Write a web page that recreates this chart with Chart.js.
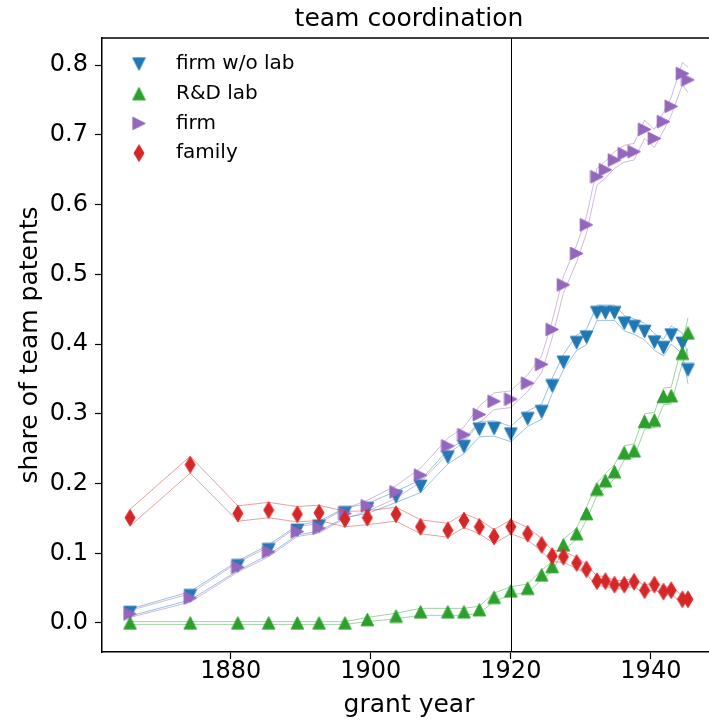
<!DOCTYPE html>
<html>
<head>
<meta charset="utf-8">
<script src="https://cdn.jsdelivr.net/npm/chart.js@4.4.1/dist/chart.umd.min.js"></script>
<style>
html, body { margin: 0; padding: 0; background: #fff; overflow: hidden; width: 709px; height: 722px; }
#wrap { width: 740px; height: 722px; position: relative; }
canvas { display: block; }
</style>
</head>
<body>
<div id="wrap"><canvas id="c" width="740" height="722"></canvas></div>
<script>
// Mean grant year of each bin
const grantYears = [1865.6, 1874.2, 1881.0, 1885.4, 1889.5, 1892.6, 1896.3, 1899.5, 1903.6, 1907.1,
  1911.0, 1913.3, 1915.5, 1917.6, 1920.0, 1922.4, 1924.4, 1925.9, 1927.5, 1929.4,
  1930.8, 1932.3, 1933.5, 1934.8, 1936.2, 1937.6, 1939.1, 1940.5, 1941.8, 1942.9,
  1944.5, 1945.3];

// Share of team patents by coordination type, with band half-widths
const firmWithoutLab = [0.015, 0.039, 0.082, 0.105, 0.133, 0.139, 0.158, 0.164, 0.181, 0.196,
  0.238, 0.253, 0.278, 0.279, 0.271, 0.293, 0.303, 0.340, 0.374, 0.402,
  0.410, 0.445, 0.445, 0.445, 0.430, 0.425, 0.418, 0.403, 0.395, 0.413,
  0.401, 0.363];
const firmWithoutLabErr = [0.005, 0.006, 0.007, 0.007, 0.007, 0.007, 0.007, 0.007, 0.008, 0.009,
  0.010, 0.010, 0.011, 0.011, 0.011, 0.011, 0.011, 0.011, 0.011, 0.011,
  0.011, 0.011, 0.011, 0.011, 0.011, 0.011, 0.012, 0.012, 0.012, 0.013,
  0.015, 0.020];

const rdLab = [0, 0, 0, 0, 0, 0, 0, 0.005, 0.010, 0.016,
  0.016, 0.016, 0.019, 0.037, 0.046, 0.050, 0.069, 0.081, 0.112, 0.128,
  0.157, 0.192, 0.204, 0.217, 0.244, 0.247, 0.289, 0.291, 0.325, 0.326,
  0.387, 0.416];
const rdLabErr = [0.002, 0.002, 0.002, 0.002, 0.002, 0.002, 0.002, 0.003, 0.004, 0.005,
  0.005, 0.005, 0.005, 0.006, 0.006, 0.006, 0.007, 0.007, 0.008, 0.008,
  0.009, 0.009, 0.010, 0.010, 0.010, 0.010, 0.011, 0.011, 0.012, 0.012,
  0.014, 0.022];

const firm = [0.013, 0.036, 0.080, 0.102, 0.131, 0.136, 0.157, 0.168, 0.188, 0.212,
  0.254, 0.270, 0.299, 0.318, 0.321, 0.344, 0.371, 0.421, 0.485, 0.530,
  0.571, 0.640, 0.650, 0.664, 0.673, 0.676, 0.708, 0.695, 0.719, 0.741,
  0.788, 0.779];
const firmErr = [0.005, 0.006, 0.007, 0.007, 0.007, 0.007, 0.007, 0.008, 0.009, 0.010,
  0.011, 0.011, 0.012, 0.012, 0.012, 0.012, 0.012, 0.012, 0.012, 0.012,
  0.012, 0.012, 0.012, 0.012, 0.012, 0.012, 0.013, 0.013, 0.013, 0.013,
  0.016, 0.018];

const family = [0.151, 0.227, 0.157, 0.162, 0.156, 0.158, 0.149, 0.151, 0.156, 0.138,
  0.133, 0.147, 0.138, 0.124, 0.138, 0.128, 0.112, 0.096, 0.095, 0.086,
  0.077, 0.060, 0.060, 0.055, 0.055, 0.059, 0.047, 0.055, 0.045, 0.047,
  0.034, 0.034];
const familyErr = [0.012, 0.012, 0.011, 0.011, 0.011, 0.011, 0.011, 0.010, 0.010, 0.010,
  0.010, 0.010, 0.010, 0.010, 0.010, 0.009, 0.009, 0.008, 0.008, 0.008,
  0.007, 0.007, 0.007, 0.006, 0.006, 0.006, 0.006, 0.006, 0.006, 0.006,
  0.005, 0.005];

const seriesLabels = ['firm w/o lab', 'R&D lab', 'firm', 'family'];
const xTicks = [1880, 1900, 1920, 1940];
const yTicks = [0.0, 0.1, 0.2, 0.3, 0.4, 0.5, 0.6, 0.7, 0.8];
const referenceYear = 1920;

const FONT = "'DejaVu Sans', 'Liberation Sans', sans-serif";

// Marker glyphs drawn once on small canvases and reused as point styles
function makeMarker(shape, color) {
  const c = document.createElement('canvas');
  const w = shape === 'diamond' ? 12 : 15;
  const h = shape === 'diamond' ? 19 : 15;
  c.width = w; c.height = h;
  const g = c.getContext('2d');
  const cx = w / 2, cy = h / 2, s = 6.3;
  g.fillStyle = color;
  g.strokeStyle = color;
  g.lineWidth = 1;
  g.beginPath();
  if (shape === 'down') {
    g.moveTo(cx - s, cy - s); g.lineTo(cx + s, cy - s); g.lineTo(cx, cy + s);
  } else if (shape === 'up') {
    g.moveTo(cx, cy - s); g.lineTo(cx + s, cy + s); g.lineTo(cx - s, cy + s);
  } else if (shape === 'right') {
    g.moveTo(cx + s, cy); g.lineTo(cx - s, cy + s); g.lineTo(cx - s, cy - s);
  } else {
    g.moveTo(cx, cy - 8.3); g.lineTo(cx + 5, cy); g.lineTo(cx, cy + 8.3); g.lineTo(cx - 5, cy);
  }
  g.closePath();
  g.fill();
  g.stroke();
  return c;
}

const series = [
  { label: seriesLabels[0], values: firmWithoutLab, err: firmWithoutLabErr, rgb: '31,119,180', shape: 'down' },
  { label: seriesLabels[1], values: rdLab, err: rdLabErr, rgb: '44,160,44', shape: 'up' },
  { label: seriesLabels[2], values: firm, err: firmErr, rgb: '148,103,189', shape: 'right' },
  { label: seriesLabels[3], values: family, err: familyErr, rgb: '214,39,40', shape: 'diamond' }
];
series.forEach(s => { s.marker = makeMarker(s.shape, 'rgb(' + s.rgb + ')'); });

const datasets = [];
let drawIndex = 0;
series.forEach(s => {
  const upper = grantYears.map((x, i) => ({ x, y: s.values[i] + s.err[i] }));
  const lower = grantYears.map((x, i) => ({ x, y: s.values[i] - s.err[i] }));
  [upper, lower].forEach(band => {
    datasets.push({
      type: 'line', data: band, borderColor: 'rgba(' + s.rgb + ',0.45)', borderWidth: 1,
      pointRadius: 0, tension: 0, fill: false, order: 100 - (drawIndex++)
    });
  });
  datasets.push({
    type: 'line', label: s.label, showLine: false,
    data: grantYears.map((x, i) => ({ x, y: s.values[i] })),
    pointStyle: s.marker, pointRadius: 7, order: 100 - (drawIndex++)
  });
});

const frame = {
  id: 'frame',
  afterDatasetsDraw(chart) {
    const { ctx, chartArea: a, scales } = chart;
    const px = scales.x.getPixelForValue(referenceYear);
    ctx.save();
    ctx.strokeStyle = '#000';
    ctx.lineWidth = 1;
    ctx.beginPath();
    ctx.moveTo(Math.round(px) + 0.5, a.top);
    ctx.lineTo(Math.round(px) + 0.5, a.bottom);
    ctx.stroke();
    ctx.lineWidth = 1.5;
    ctx.beginPath();
    ctx.moveTo(a.left, a.top); ctx.lineTo(a.right, a.top); ctx.lineTo(a.right, a.bottom);
    ctx.stroke();
    ctx.restore();
  },
  afterDraw(chart) {
    const { ctx } = chart;
    ctx.save();
    ctx.font = '20px ' + FONT;
    ctx.fillStyle = '#000';
    ctx.textBaseline = 'middle';
    ctx.textAlign = 'left';
    series.forEach((s, i) => {
      const y = 64 + i * 29.7;
      ctx.drawImage(s.marker, 139 - s.marker.width / 2, y - s.marker.height / 2);
      ctx.fillText(s.label, 176, y);
    });
    ctx.restore();
  }
};

new Chart(document.getElementById('c'), {
  type: 'line',
  data: { datasets },
  options: {
    responsive: false,
    animation: false,
    devicePixelRatio: 1,
    events: [],
    layout: { padding: { left: 0, right: 24, top: 0, bottom: 0 } },
    plugins: {
      legend: { display: false },
      tooltip: { enabled: false },
      title: {
        display: true, text: 'team coordination', fullSize: false, color: '#000',
        font: { size: 25, family: FONT, weight: 'normal', lineHeight: 1.2 },
        padding: { top: 4, bottom: 4 }
      }
    },
    scales: {
      x: {
        type: 'linear', min: 1861.6, max: 1949.3,
        afterFit: s => { s.height = 70; },
        afterBuildTicks: s => { s.ticks = xTicks.map(v => ({ value: v })); },
        ticks: {
          color: '#000', font: { size: 24, family: FONT, lineHeight: 1 }, padding: 1,
          maxRotation: 0, autoSkip: false, callback: v => String(v)
        },
        grid: { display: true, drawOnChartArea: false, drawTicks: true, tickLength: 7, tickWidth: 1.2, tickColor: '#000' },
        border: { display: true, color: '#000', width: 1.5 },
        title: {
          display: true, text: 'grant year', color: '#000',
          font: { size: 25, family: FONT, lineHeight: 1.2 }, padding: { top: 0, bottom: 2 }
        }
      },
      y: {
        type: 'linear', min: -0.0416, max: 0.839,
        afterFit: s => { s.width = 102; },
        afterBuildTicks: s => { s.ticks = yTicks.map(v => ({ value: v })); },
        ticks: {
          color: '#000', font: { size: 24, family: FONT, lineHeight: 1 }, padding: 7,
          autoSkip: false, callback: v => v.toFixed(1)
        },
        grid: { display: true, drawOnChartArea: false, drawTicks: true, tickLength: 7, tickWidth: 1.2, tickColor: '#000' },
        border: { display: true, color: '#000', width: 1.5 },
        title: {
          display: true, text: 'share of team patents', color: '#000',
          font: { size: 25, family: FONT, lineHeight: 1.2 }, padding: { top: 15, bottom: 0 }
        }
      }
    }
  },
  plugins: [frame]
});
</script>
</body>
</html>
